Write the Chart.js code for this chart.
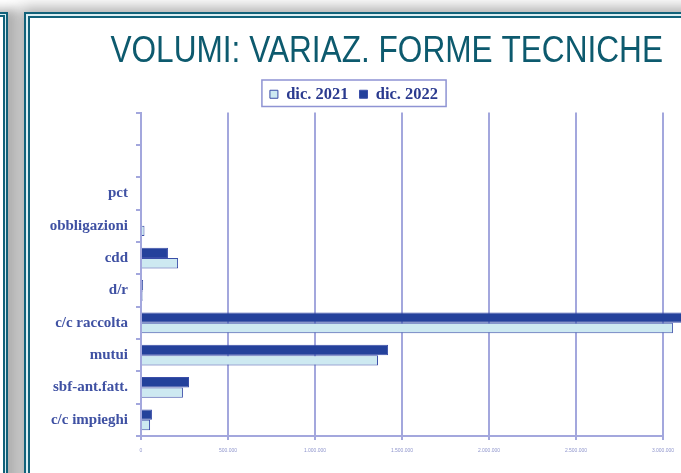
<!DOCTYPE html>
<html>
<head>
<meta charset="utf-8">
<script src="https://cdn.jsdelivr.net/npm/chart.js@4.4.1/dist/chart.umd.min.js"></script>
<style>
  html, body { margin: 0; padding: 0; background: #fff; }
  body { width: 681px; height: 473px; overflow: hidden; position: relative; }
  .side {
    position: absolute; left: -60px; top: 12px; width: 64px; height: 600px;
    border: 2px solid #11627a;
    box-shadow: inset 0 0 0 1px #d9eef3, inset 0 0 0 3px #11627a, 6px 0 10px 3px rgba(0,0,0,0.3);
    background: #fff;
  }
  .frame {
    position: absolute; left: 24px; top: 12px; width: 720px; height: 600px;
    border: 2px solid #11627a;
    box-shadow: inset 0 0 0 2px #dceff3, inset 0 0 0 4px #11627a, 0 0 14px 4px rgba(0,0,0,0.35);
    background: #fff;
  }
  #wrap { position: absolute; left: 32px; top: 19px; width: 688px; height: 454px; }
</style>
</head>
<body>
<div class="side"></div>
<div class="frame"></div>
<div id="wrap"><canvas id="barChart"></canvas></div>
<script>
  // categorie dall'alto verso il basso (le prime due sono vuote)
  var categorie = ['', '', 'pct', 'obbligazioni', 'cdd', 'd/r', 'c/c raccolta', 'mutui', 'sbf-ant.fatt.', 'c/c impieghi'];
  var dic2021 = [0, 0, 0, 20000, 213000, 10000, 3057000, 1362000, 241000, 52000];
  var dic2022 = [0, 0, 0, 0, 155000, 12000, 3250000, 1420000, 276000, 63000];
  var tickValori = [0, 500000, 1000000, 1500000, 2000000, 2500000, 3000000];
  var titolo = 'VOLUMI: VARIAZ. FORME TECNICHE';

  var lineaBlu = '#a3a7dd';

  // titolo un po' stretto, come nell'originale
  var titoloStretto = {
    id: 'titoloStretto',
    afterDraw: function (chart) {
      var ctx = chart.ctx;
      ctx.save();
      ctx.translate(chart.chartArea.right, 43);
      ctx.scale(0.878, 1);
      ctx.font = "36px 'Liberation Sans', Arial, sans-serif";
      ctx.fillStyle = '#0d5a6e';
      ctx.textAlign = 'right';
      ctx.textBaseline = 'alphabetic';
      ctx.fillText(titolo, 0, 0);
      ctx.restore();
    }
  };

  // cornice attorno alla legenda
  var legendBox = {
    id: 'legendBox',
    afterDraw: function (chart) {
      var hb = chart.legend.legendHitBoxes;
      if (!hb || !hb.length) return;
      var l = Math.min.apply(null, hb.map(function (h) { return h.left; }));
      var r = Math.max.apply(null, hb.map(function (h) { return h.left + h.width; }));
      var t = hb[0].top, h = hb[0].height;
      var ctx = chart.ctx;
      ctx.save();
      ctx.strokeStyle = '#8e93d3';
      ctx.lineWidth = 1.5;
      ctx.strokeRect(l - 8, t - 6, r - l + 16, h + 10);
      ctx.restore();
    }
  };

  var ctx = document.getElementById('barChart').getContext('2d');
  var barChart = new Chart(ctx, {
    type: 'bar',
    data: {
      labels: categorie,
      datasets: [{
        label: 'dic. 2022',
        data: dic2022,
        backgroundColor: '#24419b',
        borderColor: '#3a4ea8',
        borderWidth: 1,
        clip: { left: 0, top: 0, right: false, bottom: 0 }
      }, {
        label: 'dic. 2021',
        data: dic2021,
        backgroundColor: '#cde9f1',
        borderColor: '#3a4ea8',
        borderWidth: 1,
        clip: { left: 0, top: 0, right: false, bottom: 0 }
      }]
    },
    options: {
      indexAxis: 'y',
      responsive: true,
      maintainAspectRatio: false,
      animation: false,
      categoryPercentage: 0.64,
      barPercentage: 1,
      layout: {
        padding: { left: 13, right: 57, top: 56, bottom: 15 }
      },
      plugins: {
        tooltip: { enabled: false },
        title: { display: false },
        legend: {
          reverse: true,
          labels: {
            boxWidth: 8,
            boxHeight: 8,
            padding: 11,
            color: '#2b3b8f',
            font: { family: "'Liberation Serif', 'Times New Roman', serif", size: 16.5, weight: 'bold' }
          }
        }
      },
      scales: {
        x: {
          min: 0,
          max: 3000000,
          afterBuildTicks: function (scale) {
            scale.ticks = tickValori.map(function (v) { return { value: v }; });
          },
          afterFit: function (scale) { scale.height = 22; },
          grid: { color: lineaBlu, lineWidth: 2, tickLength: 4 },
          border: { color: lineaBlu, width: 2 },
          ticks: {
            padding: 8,
            color: '#8f95cc',
            font: { family: "'Liberation Sans', Arial, sans-serif", size: 5 },
            callback: function (v) { return String(v).replace(/\B(?=(\d{3})+(?!\d))/g, '.'); }
          }
        },
        y: {
          afterFit: function (scale) { scale.width = 96; },
          grid: { drawOnChartArea: false, color: lineaBlu, lineWidth: 2, tickLength: 5 },
          border: { color: lineaBlu, width: 2 },
          ticks: {
            padding: 8,
            color: '#3f51a3',
            font: { family: "'Liberation Serif', 'Times New Roman', serif", size: 15, weight: 'bold' }
          }
        }
      }
    },
    plugins: [titoloStretto, legendBox]
  });
</script>
</body>
</html>
